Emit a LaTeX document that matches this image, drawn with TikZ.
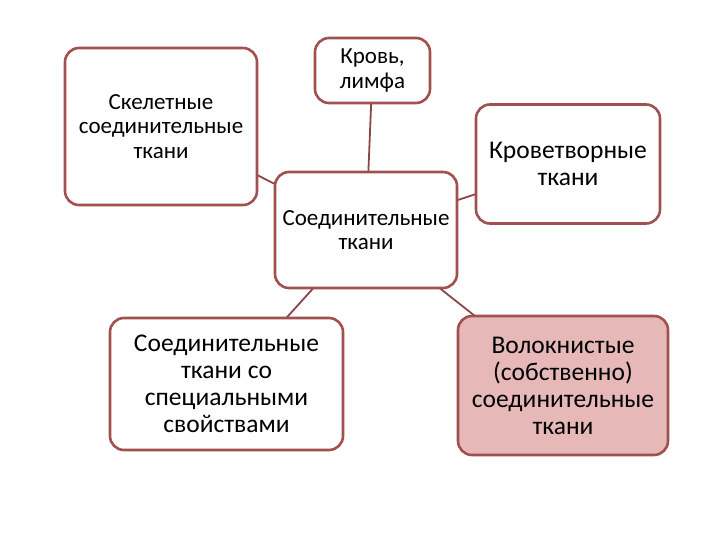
\documentclass[tikz,border=0pt]{standalone}
\usepackage{fontspec}
\setmainfont{Carlito}
\usetikzlibrary{backgrounds}
\definecolor{bord}{HTML}{A0504F}
\definecolor{lnk}{HTML}{8C4646}
\definecolor{pinkf}{HTML}{E6B9B8}
\begin{document}
\begin{tikzpicture}[x=1pt,y=-1pt,
  box/.style={draw=bord,line width=2.6pt,rounded corners=14pt,fill=white,align=center,font=\fontsize{23}{24.5}\selectfont,inner sep=2pt},
  big/.style={font=\fontsize{25.5}{27}\selectfont},
  link/.style={draw=lnk,line width=1.8pt}]
\useasboundingbox (0,0) rectangle (720,540);
\node[box,minimum width=192pt,minimum height=157pt] (sk) at (161,126.5) {Скелетные\\соединительные\\ткани};
\node[box,minimum width=115pt,minimum height=65pt] (bl) at (372.5,70.5) {Кровь,\\лимфа};
\node[box,big,minimum width=184pt,minimum height=119pt] (he) at (568,164) {Кроветворные\\ткани};
\node[box,minimum width=182pt,minimum height=116pt] (ce) at (366,230) {Соединительные\\ткани};
\node[box,big,minimum width=233pt,minimum height=132pt] (sp) at (226.5,384) {Соединительные\\ткани со\\специальными\\свойствами};
\node[box,big,fill=pinkf,minimum width=210pt,minimum height=139pt] (fi) at (563,385.5) {Волокнистые\\(собственно)\\соединительные\\ткани};
\begin{scope}[on background layer]
\draw[link] (ce.center) -- (sk.center);
\draw[link] (ce.center) -- (bl.center);
\draw[link] (ce.center) -- (he.center);
\draw[link] (ce.center) -- (sp.center);
\draw[link] (ce.center) -- (fi.center);
\end{scope}
\end{tikzpicture}
\end{document}
